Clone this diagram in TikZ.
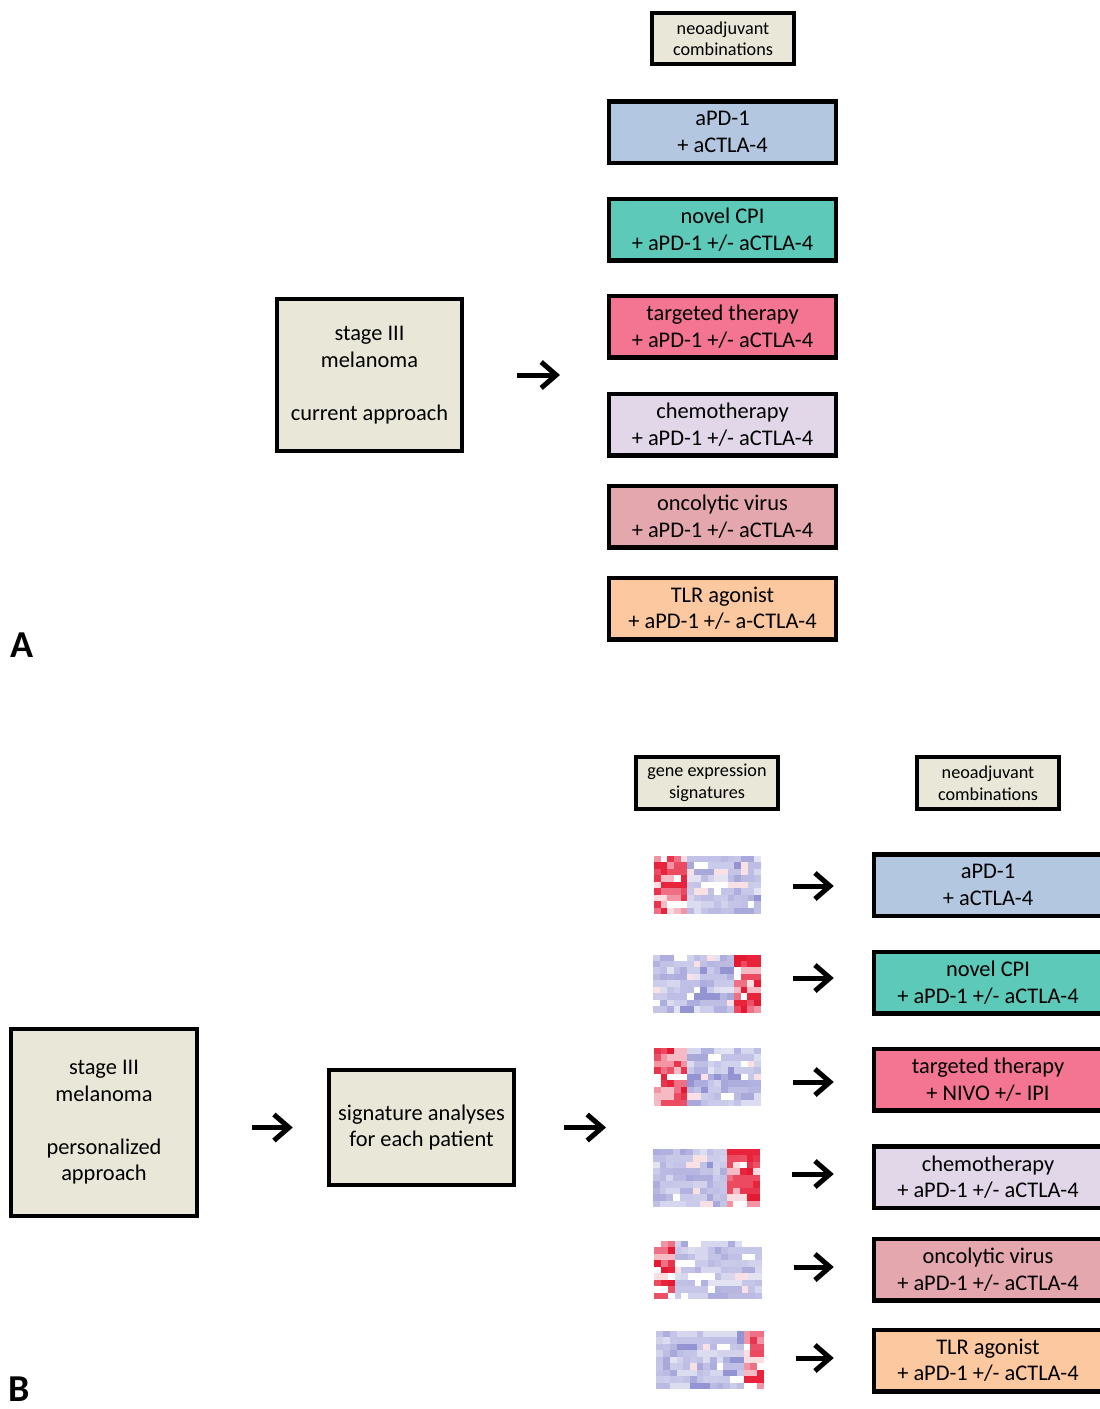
\documentclass[tikz,border=0pt]{standalone}
\usepackage{fontspec}
\setmainfont{Carlito}
\usetikzlibrary{arrows.meta}
\definecolor{beige}{HTML}{E9E7D7}
\definecolor{cblue}{HTML}{B3C7E1}
\definecolor{cteal}{HTML}{5CC9B9}
\definecolor{cpink}{HTML}{F47592}
\definecolor{clav}{HTML}{E1D7E9}
\definecolor{crose}{HTML}{E4A7AE}
\definecolor{corange}{HTML}{FBC89F}
% heatmap palettes
\definecolor{hmB0}{HTML}{FFFFFF}
\definecolor{hmB1}{HTML}{F8E0E5}
\definecolor{hmB2}{HTML}{E2E2F3}
\definecolor{hmB3}{HTML}{DCDCF1}
\definecolor{hmB4}{HTML}{D6D6EF}
\definecolor{hmB5}{HTML}{D2D2ED}
\definecolor{hmB6}{HTML}{CCCCEB}
\definecolor{hmB7}{HTML}{CACAEA}
\definecolor{hmB8}{HTML}{C8C8E9}
\definecolor{hmB9}{HTML}{C6C6E8}
\definecolor{hmB10}{HTML}{C4C4E8}
\definecolor{hmB11}{HTML}{C2C2E7}
\definecolor{hmB12}{HTML}{C0C0E6}
\definecolor{hmB13}{HTML}{BEBEE5}
\definecolor{hmB14}{HTML}{BABAE3}
\definecolor{hmB15}{HTML}{B6B6E1}
\definecolor{hmB16}{HTML}{B2B2E0}
\definecolor{hmB17}{HTML}{AEAEDE}
\definecolor{hmB18}{HTML}{A8A8DB}
\definecolor{hmB19}{HTML}{9494D2}
\definecolor{hmR0}{HTML}{FFFFFF}
\definecolor{hmR1}{HTML}{FADCE1}
\definecolor{hmR2}{HTML}{F6BAC4}
\definecolor{hmR3}{HTML}{F294A3}
\definecolor{hmR4}{HTML}{EE7084}
\definecolor{hmR5}{HTML}{EA5066}
\definecolor{hmR6}{HTML}{E8344C}
\definecolor{hmR7}{HTML}{E8243C}
\definecolor{hmR8}{HTML}{EC4A60}
\definecolor{hmR9}{HTML}{E41A32}
\tikzset{
  box/.style={draw=black, line width=4.5pt, align=center, inner sep=0pt,
    font=\fontsize{22.4}{26.5}\selectfont},
  combo/.style={box, minimum width=227pt, minimum height=61.5pt},
  combob/.style={box, minimum width=228pt, minimum height=61.5pt},
  header/.style={draw=black, line width=4pt, fill=beige, align=center, inner sep=0pt,
    font=\fontsize{18.2}{21.5}\selectfont, minimum width=142.5pt, minimum height=51.5pt},
  arr/.style={line width=5pt, -{Straight Barb[length=15pt,width=26pt,line width=5pt]}},
  heatbox/.style={minimum width=108pt, minimum height=58pt, inner sep=0pt},
  panel/.style={font=\fontsize{38}{40}\selectfont\bfseries, inner sep=0pt, text depth=0pt, anchor=base},
}
\newcommand\drawheat[7]{%
  \pgfmathsetseed{#7}%
  \node[heatbox] (#1) at (#2,#3) {};
  \foreach \rr in {0,...,8}{%
    \xdef\lastk{-1}\xdef\lastpal{x}%
    \foreach \cc in {0,...,15}{%
      \ifnum\cc<#5\relax \def\pal{hmB}\else\ifnum\cc>#6\relax \def\pal{hmB}\else \def\pal{hmR}\fi\fi
      \pgfmathrandominteger{\rep}{0}{2}%
      \edef\tmpp{\pal}%
      \ifx\tmpp\lastpal
        \ifnum\rep=0 \edef\kk{\lastk}\else\newkk\fi
      \else\newkk\fi
      \xdef\lastk{\kk}\xdef\lastpal{\pal}%
      \edef\colnm{\pal\kk}%
      \fill[fill=\colnm] ({#2-53.6+\cc*6.7},{#4-29+\rr*6.45}) rectangle ++(6.8,6.55);
    }}%
}
\newcommand\newkk{%
  \def\tmpb{hmB}\ifx\pal\tmpb
    \pgfmathrandominteger{\kk}{0}{19}%
  \else
    \pgfmathrandominteger{\kk}{0}{9}%
  \fi}
\begin{document}
\begin{tikzpicture}[x=1pt,y=-1pt]
\useasboundingbox (0,0) rectangle (1100,1409);
\clip (0,0) rectangle (1100,1409);

% ---------- Panel A ----------
\node[header] (hA) at (723,38.5) {neoadjuvant\\combinations};
\node[combo, fill=cblue]   (a1) at (722.5,132) {aPD-1\\+ aCTLA-4};
\node[combo, fill=cteal]   (a2) at (722.5,229.5) {novel CPI\\+ aPD-1 +/- aCTLA-4};
\node[combo, fill=cpink]   (a3) at (722.5,326.5) {targeted therapy\\+ aPD-1 +/- aCTLA-4};
\node[combo, fill=clav]    (a4) at (722.5,424.5) {chemotherapy\\+ aPD-1 +/- aCTLA-4};
\node[combo, fill=crose]   (a5) at (722.5,516.5) {oncolytic virus\\+ aPD-1 +/- aCTLA-4};
\node[combo, fill=corange] (a6) at (722.5,608.5) {TLR agonist\\+ aPD-1 +/- a-CTLA-4};
\node[box, fill=beige, minimum width=185pt, minimum height=152pt] (sA) at (369.5,375)
  {stage III\\melanoma\\[26.5pt]current approach};
\coordinate (tA) at (609,375);
\draw[arr, shorten <=53pt, shorten >=49pt] (sA.east) -- (tA);
\node[panel] (lA) at (22,657) {A};

% ---------- Panel B ----------
\node[header] (hG) at (707,783) {gene expression\\signatures};
\node[header] (hN) at (988,783) {neoadjuvant\\combinations};
\node[combob, fill=cblue]   (b1) at (988,885) {aPD-1\\+ aCTLA-4};
\node[combob, fill=cteal]   (b2) at (988,982.5) {novel CPI\\+ aPD-1 +/- aCTLA-4};
\node[combob, fill=cpink]   (b3) at (988,1079.5) {targeted therapy\\+ NIVO +/- IPI};
\node[combob, fill=clav]    (b4) at (988,1177) {chemotherapy\\+ aPD-1 +/- aCTLA-4};
\node[combob, fill=crose]   (b5) at (988,1269.5) {oncolytic virus\\+ aPD-1 +/- aCTLA-4};
\node[combob, fill=corange] (b6) at (988,1360.5) {TLR agonist\\+ aPD-1 +/- aCTLA-4};

\drawheat{h1}{707.5}{886}{885}{0}{4}{11}
\drawheat{h2}{707}{978}{983.5}{12}{15}{23}
\drawheat{h3}{707.5}{1082}{1077}{0}{4}{37}
\drawheat{h4}{706.5}{1174}{1178}{11}{15}{41}
\drawheat{h5}{708}{1267}{1270}{0}{2}{53}
\drawheat{h6}{710}{1358}{1360}{13}{15}{67}

\foreach \i in {1,...,6}{
  \draw[arr, shorten <=31.5pt, shorten >=38pt] (h\i.east) -- (h\i.east -| b\i.west);
}

\node[box, fill=beige, minimum width=186pt, minimum height=187pt] (sB) at (104,1122.5)
  {stage III\\melanoma\\[26.5pt]personalized\\approach};
\node[box, fill=beige, minimum width=185pt, minimum height=115pt] (sig) at (421.5,1127.5)
  {signature analyses\\for each patient};
\draw[arr, shorten <=53pt, shorten >=34pt] (sB.east |- sig.west) -- (sig.west);
\coordinate (tS) at (654,1127.5);
\draw[arr, shorten <=48pt, shorten >=48pt] (sig.east) -- (tS);
\node[panel] (lB) at (19,1401) {B};
\end{tikzpicture}
\end{document}
